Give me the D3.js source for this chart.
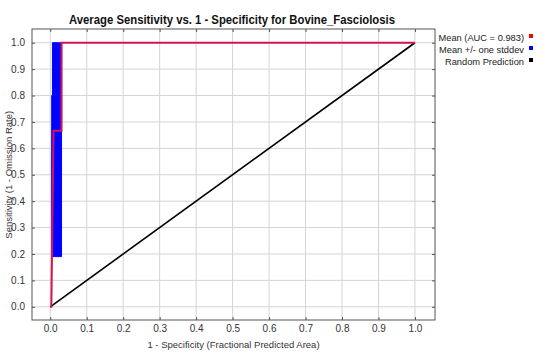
<!DOCTYPE html>
<html>
<head>
<meta charset="utf-8">
<script src="https://cdn.jsdelivr.net/npm/d3@7"></script>
<style>
  body { margin: 0; background: #fff; }
  text { font-family: "Liberation Sans", Arial, sans-serif; }
</style>
</head>
<body>
<div id="chart"></div>
<script>
// chart data
var ticks = [0, 0.1, 0.2, 0.3, 0.4, 0.5, 0.6, 0.7, 0.8, 0.9, 1.0];
var meanX = [0, 0.003, 0.009, 0.031, 0.031, 1.0];
var meanY = [0, 0, 0.667, 0.667, 1.0, 1.0];
// mean +/- one stddev band, upper edge then lower edge
var upperX = [0.004, 0.004, 0.006, 0.006, 0.031];
var upperY = [0.19, 0.80, 0.80, 1.0, 1.0];
var lowerX = [0.004, 0.031, 0.031];
var lowerY = [0.19, 0.19, 1.0];
var randomX = [0, 1];
var randomY = [0, 1];
var legendLabels = ["Mean (AUC = 0.983)", "Mean +/- one stddev", "Random Prediction"];
var legendColors = ["#ff0000", "#0000ff", "#000000"];

var width = 546, height = 354;
var box = {left: 32, right: 435, top: 29, bottom: 320};

var svg = d3.select("#chart").append("svg")
  .attr("width", width)
  .attr("height", height);

var x = d3.scaleLinear().domain([-0.05, 1.055]).range([box.left, box.right]);
var y = d3.scaleLinear().domain([-0.05, 1.052]).range([box.bottom, box.top]);

// grid
svg.append("g").selectAll("line.vg")
  .data(ticks).enter().append("line")
  .attr("x1", function(d) { return x(d); }).attr("x2", function(d) { return x(d); })
  .attr("y1", box.top).attr("y2", box.bottom)
  .attr("stroke", "#d4d4d4").attr("stroke-width", 1);
svg.append("g").selectAll("line.hg")
  .data(ticks).enter().append("line")
  .attr("y1", function(d) { return y(d); }).attr("y2", function(d) { return y(d); })
  .attr("x1", box.left).attr("x2", box.right)
  .attr("stroke", "#d4d4d4").attr("stroke-width", 1);

// axes with short inner ticks
var tickFmt = d3.format(".1f");
svg.append("g").attr("transform", "translate(0," + box.bottom + ")")
  .call(d3.axisBottom(x).tickValues(ticks).tickFormat(tickFmt).tickSizeInner(-3).tickSizeOuter(0).tickPadding(5));
svg.append("g").attr("transform", "translate(" + box.left + ",0)")
  .call(d3.axisLeft(y).tickValues(ticks).tickFormat(tickFmt).tickSizeInner(-3).tickSizeOuter(0).tickPadding(7));
svg.append("g").attr("transform", "translate(0," + box.top + ")")
  .call(d3.axisTop(x).tickValues(ticks).tickFormat("").tickSizeInner(-3).tickSizeOuter(0));
svg.append("g").attr("transform", "translate(" + box.right + ",0)")
  .call(d3.axisRight(y).tickValues(ticks).tickFormat("").tickSizeInner(-3).tickSizeOuter(0));
svg.selectAll(".domain").remove();
svg.selectAll(".tick line").attr("stroke", "#555");
svg.selectAll(".tick text").attr("fill", "#333").attr("font-size", 10);

// band
var band = upperX.map(function(v, i) { return [x(v), y(upperY[i])]; });
for (var i = lowerX.length - 1; i >= 0; i--) band.push([x(lowerX[i]), y(lowerY[i])]);
svg.append("path")
  .attr("d", d3.line()(band) + "Z")
  .attr("fill", "#0000ff").attr("stroke", "#0000ff").attr("stroke-width", 1);

// random prediction
var line = d3.line()
  .x(function(d) { return x(d[0]); })
  .y(function(d) { return y(d[1]); });
svg.append("path")
  .attr("d", line(randomX.map(function(v, i) { return [v, randomY[i]]; })))
  .attr("fill", "none").attr("stroke", "#000").attr("stroke-width", 1.6);

// mean
svg.append("path")
  .attr("d", line(meanX.map(function(v, i) { return [v, meanY[i]]; })))
  .attr("fill", "none").attr("stroke", "#d4145a").attr("stroke-width", 2);

// plot border
svg.append("rect")
  .attr("x", box.left).attr("y", box.top)
  .attr("width", box.right - box.left).attr("height", box.bottom - box.top)
  .attr("fill", "none").attr("stroke", "#555").attr("stroke-width", 1);

// titles
svg.append("text")
  .attr("x", 232).attr("y", 24)
  .attr("text-anchor", "middle").attr("font-size", 12).attr("font-weight", "bold")
  .attr("fill", "#111")
  .attr("textLength", 326).attr("lengthAdjust", "spacingAndGlyphs")
  .text("Average Sensitivity vs. 1 - Specificity for Bovine_Fasciolosis");
svg.append("text")
  .attr("x", (box.left + box.right) / 2).attr("y", 348)
  .attr("text-anchor", "middle").attr("font-size", 9.5).attr("fill", "#333")
  .text("1 - Specificity (Fractional Predicted Area)");
svg.append("text")
  .attr("transform", "translate(12," + y(0.5) + ") rotate(-90)")
  .attr("text-anchor", "middle").attr("font-size", 9.5).attr("fill", "#333")
  .text("Sensitivity (1 - Omission Rate)");

// legend
var leg = svg.append("g").selectAll("g")
  .data(legendLabels).enter().append("g")
  .attr("transform", function(d, i) { return "translate(0," + (41 + i * 12) + ")"; });
leg.append("text")
  .attr("x", 524).attr("text-anchor", "end").attr("font-size", 9.3).attr("fill", "#222")
  .text(function(d) { return d; });
leg.append("rect")
  .attr("x", 529).attr("y", -7).attr("width", 4).attr("height", 4)
  .attr("fill", function(d, i) { return legendColors[i]; });
</script>
</body>
</html>
